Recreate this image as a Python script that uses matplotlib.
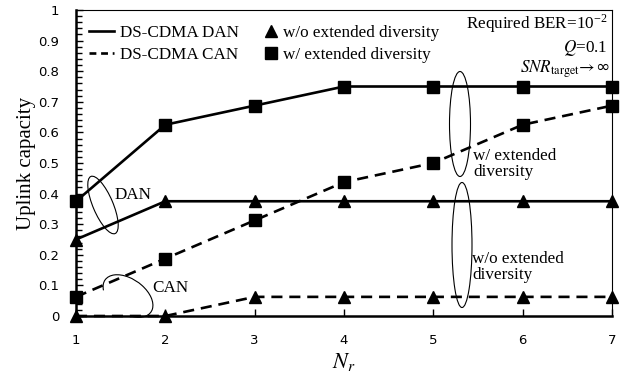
import numpy as np
import matplotlib
matplotlib.use("Agg")
import matplotlib.pyplot as plt
from matplotlib.patches import Ellipse, Arc
from matplotlib.lines import Line2D
from matplotlib.transforms import IdentityTransform
from matplotlib.ticker import MultipleLocator

# ---- data ----
nr = [1, 2, 3, 4, 5, 6, 7]
dan_with = [0.375, 0.625, 0.6875, 0.75, 0.75, 0.75, 0.75]
dan_without = [0.25, 0.375, 0.375, 0.375, 0.375, 0.375, 0.375]
can_with = [0.0625, 0.1875, 0.3125, 0.4375, 0.5, 0.625, 0.6875]
can_without = [0.0, 0.0, 0.0625, 0.0625, 0.0625, 0.0625, 0.0625]
yticks = [0, 0.1, 0.2, 0.3, 0.4, 0.5, 0.6, 0.7, 0.8, 0.9, 1]
ytick_labels = ["0", "0.1", "0.2", "0.3", "0.4", "0.5", "0.6", "0.7", "0.8", "0.9", "1"]

plt.rcParams['mathtext.fontset'] = 'stix'
SERIF = 'Liberation Serif'
W, H = 625, 376
fig = plt.figure(figsize=(W / 100, H / 100), dpi=100)
L, R, T, B = 76, 612, 10, 316
ax = fig.add_axes([L / W, 1 - B / H, (R - L) / W, (B - T) / H])

lw = 1.9
ms = 8
dash = (0, (4.2, 2.6))
ax.plot(nr, dan_with, color='black', lw=lw, marker='s', ms=ms, clip_on=False, zorder=5)
ax.plot(nr, dan_without, color='black', lw=lw, marker='^', ms=ms, clip_on=False, zorder=5)
ax.plot(nr, can_with, color='black', lw=lw, ls=dash, marker='s', ms=ms, clip_on=False, zorder=5)
ax.plot(nr, can_without, color='black', lw=lw, ls=dash, marker='^', ms=ms, clip_on=False, zorder=5)

ax.set_xlim(1, 7)
ax.set_ylim(0, 1)
ax.set_xticks(nr)
ax.set_yticks(yticks)
ax.set_yticklabels(ytick_labels)
ax.yaxis.set_minor_locator(MultipleLocator(0.02))
ax.tick_params(axis='both', which='both', direction='in', labelsize=9.5, width=1)
ax.tick_params(axis='y', which='major', length=5, pad=12)
ax.tick_params(axis='y', which='minor', length=4)
ax.tick_params(axis='x', which='major', length=5, pad=13)
for lab in ax.get_xticklabels() + ax.get_yticklabels():
    lab.set_fontfamily('DejaVu Sans')
ax.spines['left'].set_linewidth(1.8)
ax.spines['bottom'].set_linewidth(1.8)
ax.spines['top'].set_linewidth(0.8)
ax.spines['right'].set_linewidth(0.8)

ax.set_ylabel('Uplink capacity', family=SERIF, fontsize=15, labelpad=2)
ax.set_xlabel(r'$N_r$', fontsize=16, labelpad=3)

fs = 12.3
# legends
h1 = [Line2D([], [], color='black', lw=lw), Line2D([], [], color='black', lw=lw, ls=(0, (2.6, 1.8)))]
leg1 = ax.legend(h1, ['DS-CDMA DAN', 'DS-CDMA CAN'], loc='upper left',
                 bbox_to_anchor=((89 - L) / (R - L), 1 - (25 - T) / (B - T)),
                 frameon=False, borderpad=0, borderaxespad=0, handlelength=1.47,
                 handletextpad=0.35, labelspacing=0.36, prop={'family': SERIF, 'size': fs})
ax.add_artist(leg1)
h2 = [Line2D([], [], color='black', ls='none', marker='^', ms=ms),
      Line2D([], [], color='black', ls='none', marker='s', ms=ms)]
ax.legend(h2, ['w/o extended diversity', 'w/ extended diversity'], loc='upper left',
          bbox_to_anchor=((262 - L) / (R - L), 1 - (25 - T) / (B - T)),
          frameon=False, borderpad=0, borderaxespad=0, handlelength=1.0,
          handletextpad=0.24, labelspacing=0.36, prop={'family': SERIF, 'size': fs})

# parameter text
ax.text(0.991, 0.938, r'Required BER=10$^{\mathregular{-2}}$', transform=ax.transAxes,
        ha='right', va='baseline', family=SERIF, fontsize=fs)
ax.text(0.991, 0.863, r'$Q$=0.1', transform=ax.transAxes,
        ha='right', va='baseline', family=SERIF, fontsize=fs)
ax.text(0.995, 0.797, r'$SNR_{\mathrm{target}}\!\rightarrow\!\mathregular{\infty}$', transform=ax.transAxes,
        ha='right', va='baseline', fontsize=12.3)

# annotation labels
ax.text(1.437, 0.395, 'DAN', family=SERIF, fontsize=fs, ha='left', va='center')
ax.text(1.85, 0.092, 'CAN', family=SERIF, fontsize=fs, ha='left', va='center')
ax.text(5.444, 0.497, 'w/ extended\ndiversity', family=SERIF, fontsize=fs, ha='left',
        va='center', linespacing=1.05)
ax.text(5.433, 0.160, 'w/o extended\ndiversity', family=SERIF, fontsize=fs, ha='left',
        va='center', linespacing=1.05)

# annotation ellipses (in pixel space, image coords y-down)
def px(x, y):
    return (x, H - y)

ell_kw = dict(fill=False, ec='black', lw=0.8, transform=IdentityTransform(), zorder=6)
fig.patches.append(Ellipse(px(103, 205), 62, 20, angle=113, **ell_kw))
fig.patches.append(Arc(px(128, 296), 56, 34, angle=-35, theta1=-42, theta2=202, **ell_kw))
fig.patches.append(Ellipse(px(460, 124), 21, 105, angle=0, **ell_kw))
fig.patches.append(Ellipse(px(462, 245), 20, 125, angle=0, **ell_kw))

fig.savefig('out.png', dpi=100)
